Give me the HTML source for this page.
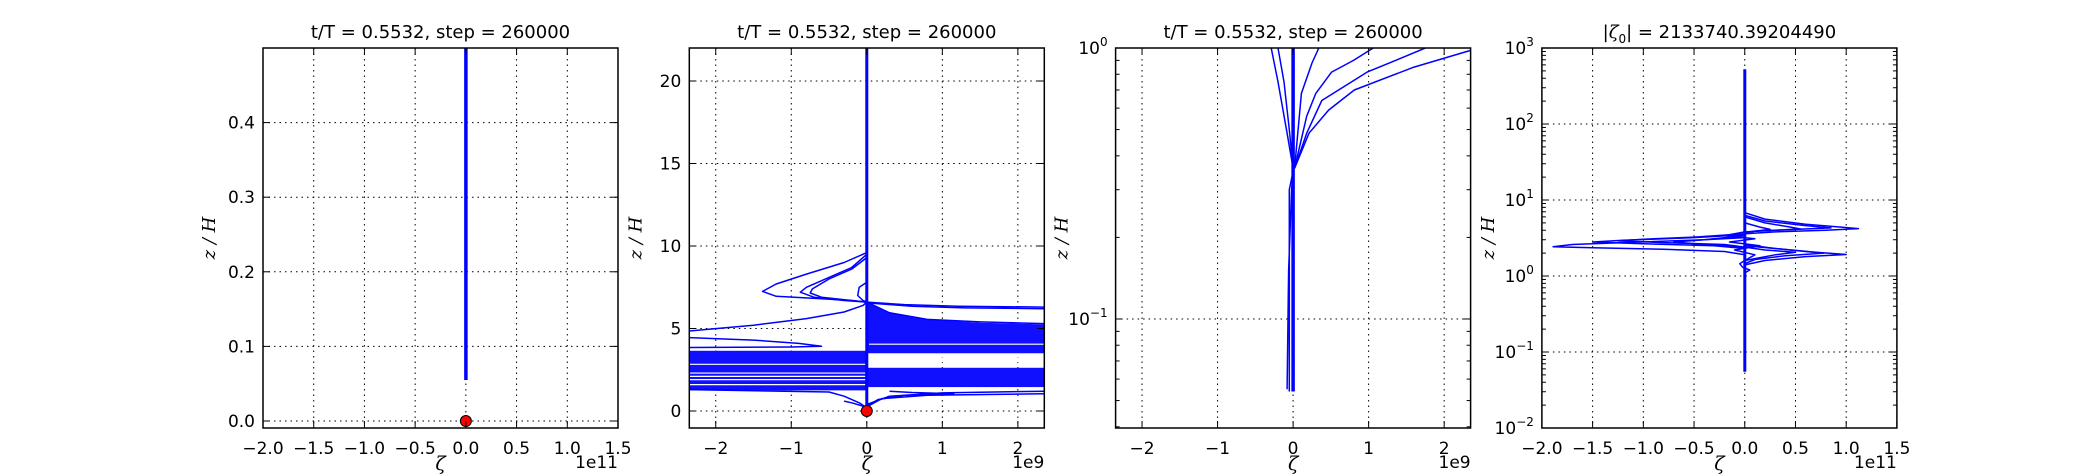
<!DOCTYPE html>
<html><head><meta charset="utf-8"><style>
html,body{margin:0;padding:0;background:#fff;width:2100px;height:475px;overflow:hidden}
svg{display:block}
text{font-family:"DejaVu Sans","Liberation Sans",sans-serif;fill:#000}
.m{font-family:"DejaVu Serif","Liberation Serif",serif;font-style:italic}
</style></head><body>
<svg id="fig" width="2100" height="475" viewBox="0 0 2100 475" xmlns="http://www.w3.org/2000/svg"></svg>
<script>
// ---------- data ----------
const p1Line = {x:[0,0], z:[0.055,0.5]};
const p1Dot = {x:[0], z:[0]};

const p2Vertical = {x:[0,0], z:[0,22]};
const p2Bands = {x0:[-2.35,0,0], x1:[0,2.35,2.35], z0:[1.25,3.5,1.45], z1:[3.65,5.05,2.62]};
const p2GapLeftZ = [2.83,2.3,2.1,1.9,1.6];
const p2GapRightZ = [4.05,3.4,3.3,3.1,3.0,2.8,2.7,1.39];
const p2FanX = [0,0.3,0.8,1.5,2.35,2.35,0];
const p2FanZ = [6.6,5.95,5.55,5.35,5.25,5.0,5.0];
const p2Curves = [
 {x:[0,-0.3,-0.8,-1.2,-1.38,-1.2,-0.6,-0.2,0], z:[9.6,9.0,8.3,7.7,7.25,6.95,6.8,6.7,6.6]},
 {x:[0,-0.2,-0.5,-0.8,-0.88,-0.7,-0.3,0], z:[9.5,8.7,8.1,7.5,7.2,6.9,6.7,6.6]},
 {x:[0,-0.2,-0.5,-0.72,-0.75,-0.6,-0.2,0], z:[9.3,8.6,8.0,7.4,7.15,6.9,6.7,6.6]},
 {x:[0,-0.1,-0.12,-0.05,0], z:[7.8,7.5,7.0,6.7,6.6]},
 {x:[-2.35,-1.5,-0.8,-0.3,-0.05,0], z:[4.85,5.2,5.6,6.0,6.4,6.6]},
 {x:[-2.35,-1.5,-0.9,-0.6,-1.0,-2.35], z:[4.45,4.3,4.1,3.92,3.88,3.85]},
 {x:[0,0.5,1.2,2.35], z:[6.6,6.45,6.35,6.3]},
 {x:[0,0.6,1.3,2.35], z:[6.55,6.35,6.25,6.2]},
 {x:[0,0.3,0.8,1.5,2.35], z:[6.6,5.95,5.55,5.4,5.3]},
 {x:[0,0.15,0.5,1.15,0.6,0.3], z:[0.3,0.7,0.95,1.05,1.12,1.2]},
 {x:[0,0.2,0.8,2.35], z:[0.25,0.75,0.95,1.05]},
 {x:[0,0.3,1,2.35], z:[0.4,0.9,1.1,1.2]},
 {x:[0,-0.1,-0.3,-0.5,-2.35], z:[0.2,0.5,0.9,1.15,1.3]},
 {x:[0,-0.05,-0.2,-0.3], z:[0.1,0.3,0.5,0.6]}
];

const p3Thick = {x:[0,0], z:[0.054,1]};
const p3Curves = [
 {x:[-0.05,-0.05,0], z:[0.054,0.3,0.35]},
 {x:[-0.08,-0.06,-0.02,0], z:[0.055,0.15,0.3,0.35]},
 {x:[0.02,0.21,0.47,0.81,1.6,2.35], z:[0.36,0.485,0.59,0.70,0.85,0.98]},
 {x:[0.02,0.18,0.38,0.98,1.4,1.75], z:[0.36,0.485,0.64,0.815,0.91,1]},
 {x:[0.02,0.18,0.30,0.51,0.8,1.06], z:[0.36,0.56,0.68,0.815,0.9,1]},
 {x:[0.02,0.11,0.25,0.34], z:[0.36,0.68,0.88,1]},
 {x:[0,-0.08,-0.2,-0.29], z:[0.36,0.485,0.75,1]},
 {x:[0,-0.05,-0.12,-0.2], z:[0.36,0.5,0.75,1]}
];

const p4Thick = {x:[0,0], z:[0.055,525]};
const p4Curves = [
 {x:[0,0.2,0.6,0.95,1.12,0.8,0.3,0], z:[6.8,5.6,4.8,4.4,4.2,4.0,3.8,3.6]},
 {x:[0,0.2,0.6,0.85,0.5,0.1,0], z:[6.3,5.3,4.6,4.3,4.1,3.9,3.7]},
 {x:[0,0.2,0.45,0.55,0.3,0], z:[6,5,4.4,4.15,4.0,3.8]},
 {x:[0,0.15,0.25,0.1,0], z:[5,4.4,4.1,3.9,3.7]},
 {x:[0,0.3,0.7,1.0,0.6,0.2,0], z:[2.6,2.3,2.05,1.92,1.8,1.6,1.4]},
 {x:[0,0.3,0.6,0.78,0.4,0.1,0], z:[2.5,2.3,2.1,2.0,1.85,1.65,1.45]},
 {x:[0,0.2,0.5,0.3,0], z:[2.4,2.2,2.05,1.9,1.6]},
 {x:[0,-0.4,-1.2,-1.7,-1.89,-1.5,-0.8,-0.2,0], z:[3.4,3.0,2.75,2.6,2.43,2.35,2.25,2.1,1.9]},
 {x:[0,-0.5,-1.2,-1.5,-1.0,-0.3,0], z:[3.5,3.2,2.95,2.8,2.65,2.5,2.3]},
 {x:[0,-0.5,-1.0,-1.25,-0.8,-0.2,0], z:[3.6,3.25,3.05,2.9,2.75,2.6,2.4]},
 {x:[0,-0.4,-0.7,-0.4,0], z:[3.2,3.0,2.8,2.6,2.4]},
 {x:[0,-0.05,-0.02,0.05,0], z:[1.6,1.45,1.3,1.2,1.1]},
 {x:[0,-0.2,0.1,-0.15,0.15,-0.1,0.1,0], z:[3.8,3.4,3.1,2.8,2.5,2.2,1.9,1.6]}
];

const p1XTicks = [-2.0,-1.5,-1.0,-0.5,0.0,0.5,1.0,1.5];
const p1YTicks = [0.0,0.1,0.2,0.3,0.4];
const p2XTicks = [-2,-1,0,1,2];
const p2YTicks = [0,5,10,15,20];
const p3YDecades = [-1,0];
const p4YDecades = [-2,-1,0,1,2,3];

// ---------- drawing ----------
const NS="http://www.w3.org/2000/svg";
const svg=document.getElementById('fig');
function el(tag,attrs,parent){const e=document.createElementNS(NS,tag);for(const k in attrs)e.setAttribute(k,attrs[k]);(parent||svg).appendChild(e);return e;}
const TOP=48,H=380,W=355;
function makeAxes(i,xmin,xmax,ymin,ymax,log){
  const L=263+426.3*i;
  return {L,
    x:v=>L+(v-xmin)/(xmax-xmin)*W,
    y:v=>log? TOP+H-(Math.log10(v)-Math.log10(ymin))/(Math.log10(ymax)-Math.log10(ymin))*H
            : TOP+H-(v-ymin)/(ymax-ymin)*H};
}
function grid(ax,xt,yt,g){
  xt.forEach(v=>{const X=ax.x(v);
    const l=el('line',{x1:X,x2:X,y1:TOP,y2:TOP+H,stroke:'#000','stroke-width':1,'stroke-dasharray':'1.5,4'},g);
    });
  yt.forEach(v=>{const Y=ax.y(v);
    const l=el('line',{x1:ax.L,x2:ax.L+W,y1:Y,y2:Y,stroke:'#000','stroke-width':1,'stroke-dasharray':'1.5,4'},g);
    });
}
function ticks(ax,xt,yt,xl,yl,g,minorY){
  xt.forEach((v,k)=>{const X=ax.x(v);
    el('line',{x1:X,x2:X,y1:TOP+H,y2:TOP+H-7,stroke:'#000'},g);
    el('line',{x1:X,x2:X,y1:TOP,y2:TOP+7,stroke:'#000'},g);
    const t=el('text',{x:X,y:TOP+H+26,'font-size':17,'text-anchor':'middle'},g);t.textContent=xl[k];
    });
  yt.forEach((v,k)=>{const Y=ax.y(v);
    el('line',{x1:ax.L,x2:ax.L+7,y1:Y,y2:Y,stroke:'#000'},g);
    el('line',{x1:ax.L+W,x2:ax.L+W-7,y1:Y,y2:Y,stroke:'#000'},g);
    const t=el('text',{x:ax.L-8,y:Y+6,'font-size':17,'text-anchor':'end'},g);
    if(Array.isArray(yl[k])){t.textContent=yl[k][0];const s=el('tspan',{dy:-8,'font-size':12},t);s.textContent=yl[k][1];}
    else t.textContent=yl[k];
    });
  (minorY||[]).forEach(v=>{const Y=ax.y(v);if(Y<TOP||Y>TOP+H)return;
    el('line',{x1:ax.L,x2:ax.L+4,y1:Y,y2:Y,stroke:'#000'},g);
    el('line',{x1:ax.L+W,x2:ax.L+W-4,y1:Y,y2:Y,stroke:'#000'},g);});
}
function path(ax,c,w,g,name){
  let d='';c.x.forEach((v,k)=>{d+=(k?'L':'M')+ax.x(v).toFixed(1)+','+ax.y(c.z[k]).toFixed(1);});
  const p=el('path',{d,fill:'none',stroke:'#0000ff','stroke-width':w,'stroke-linejoin':'round'},g);
  
}
function frame(ax,g){const r=el('rect',{x:ax.L,y:TOP,width:W,height:H,fill:'none',stroke:'#000','stroke-width':1.5},g);
  }
function labels(ax,title,offset,g){
  const t=el('text',{x:ax.L+W/2,y:38,'font-size':18,'text-anchor':'middle'},g);
  if(Array.isArray(title)){
    t.textContent='|';const a=el('tspan',{class:'m'},t);a.textContent='ζ';
    const b=el('tspan',{'font-size':12,dy:5},t);b.textContent='0';
    const c=el('tspan',{dy:-5},t);c.textContent='| = '+title[1];
  } else t.textContent=title;
  
  const xl=el('text',{x:ax.L+W/2,y:470,'font-size':19,'text-anchor':'middle',class:'m'},g);xl.textContent='ζ';
  
  const yx=ax.L-48;
  const yl=el('text',{x:yx,y:TOP+H/2,'font-size':18,'text-anchor':'middle',class:'m',transform:`rotate(-90 ${yx} ${TOP+H/2})`},g);yl.textContent='z / H';
  
  const o=el('text',{x:ax.L+W,y:468,'font-size':17,'text-anchor':'end'},g);o.textContent=offset;
  
}
function logMinor(dec){const m=[];dec.forEach(d=>{for(let k=2;k<10;k++)m.push(k*Math.pow(10,d));});m.push(...[2,3,4,5,6,7,8,9].map(k=>k*Math.pow(10,dec[0]-1)));return m;}

// Panel 1
{const g=el('g',{});
 const ax=makeAxes(0,-2,1.5,-0.0094,0.5,false);
 grid(ax,p1XTicks,p1YTicks,g);
 path(ax,p1Line,3.5,g,'zeta-profile');
 p1Dot.x.forEach((v,k)=>{const c=el('circle',{cx:ax.x(v),cy:ax.y(p1Dot.z[k]),r:5.5,fill:'#ff0000',stroke:'#000','stroke-width':1},g);
   });
 ticks(ax,p1XTicks,p1YTicks,p1XTicks.map(v=>v.toFixed(1).replace('-','−')),p1YTicks.map(v=>v.toFixed(1)),g);
 frame(ax,g);labels(ax,'t/T = 0.5532, step = 260000','1e11',g);}

// Panel 2
{const g=el('g',{});
 const ax=makeAxes(1,-2.35,2.35,-1.03,22,false);
 grid(ax,p2XTicks,p2YTicks,g);
 const cp=el('clipPath',{id:'c2'},g);el('rect',{x:ax.L,y:TOP,width:W,height:H},cp);
 const gg=el('g',{'clip-path':'url(#c2)'},g);
 p2Bands.x0.forEach((v,k)=>{const x0=ax.x(v),x1=ax.x(p2Bands.x1[k]),y0=ax.y(p2Bands.z1[k]),y1=ax.y(p2Bands.z0[k]);
   const r=el('rect',{x:x0,y:y0,width:x1-x0,height:y1-y0,fill:'#1010ff'},gg);
   });
 p2GapLeftZ.forEach(z=>{const Y=ax.y(z);const l=el('line',{x1:ax.x(-2.35),x2:ax.x(-0.02),y1:Y,y2:Y,stroke:'#fff','stroke-width':1.2},gg);
   });
 p2GapRightZ.forEach(z=>{const Y=ax.y(z);const l=el('line',{x1:ax.x(0.03),x2:ax.x(2.35),y1:Y,y2:Y,stroke:'#fff','stroke-width':1.2},gg);
   });
 let d='';p2FanX.forEach((v,k)=>{d+=(k?'L':'M')+ax.x(v)+','+ax.y(p2FanZ[k]);});
 const f=el('path',{d:d+'Z',fill:'#1010ff'},gg);
 p2Curves.forEach(c=>path(ax,c,1.5,gg,'zeta-profile'));
 path(ax,p2Vertical,3,gg,'zeta-profile-core');
 const c=el('circle',{cx:ax.x(0),cy:ax.y(0),r:5.5,fill:'#ff0000',stroke:'#000','stroke-width':1},g);
 
 ticks(ax,p2XTicks,p2YTicks,p2XTicks.map(v=>String(v).replace('-','−')),p2YTicks.map(String),g);
 frame(ax,g);labels(ax,'t/T = 0.5532, step = 260000','1e9',g);}

// Panel 3
{const g=el('g',{});
 const ax=makeAxes(2,-2.35,2.35,0.0396,1,true);
 const yt=p3YDecades.map(d=>Math.pow(10,d));
 grid(ax,p2XTicks,yt,g);
 const cp=el('clipPath',{id:'c3'},g);el('rect',{x:ax.L,y:TOP,width:W,height:H},cp);
 const gg=el('g',{'clip-path':'url(#c3)'},g);
 p3Curves.forEach(c=>path(ax,c,1.5,gg,'zeta-profile'));
 path(ax,p3Thick,3.5,gg,'zeta-profile-core');
 ticks(ax,p2XTicks,yt,p2XTicks.map(v=>String(v).replace('-','−')),p3YDecades.map(d=>['10',String(d).replace('-','−')]),g,logMinor(p3YDecades));
 frame(ax,g);labels(ax,'t/T = 0.5532, step = 260000','1e9',g);}

// Panel 4
{const g=el('g',{});
 const ax=makeAxes(3,-2,1.5,0.01,1000,true);
 const yt=p4YDecades.map(d=>Math.pow(10,d));
 grid(ax,p1XTicks,yt,g);
 p4Curves.forEach(c=>path(ax,c,1.5,g,'zeta-profile'));
 path(ax,p4Thick,3,g,'zeta-profile-core');
 ticks(ax,p1XTicks,yt,p1XTicks.map(v=>v.toFixed(1).replace('-','−')),p4YDecades.map(d=>['10',String(d).replace('-','−')]),g,logMinor(p4YDecades).filter(v=>v<1000));
 frame(ax,g);labels(ax,['|ζ0|','2133740.39204490'],'1e11',g);}
</script>
</body></html>
